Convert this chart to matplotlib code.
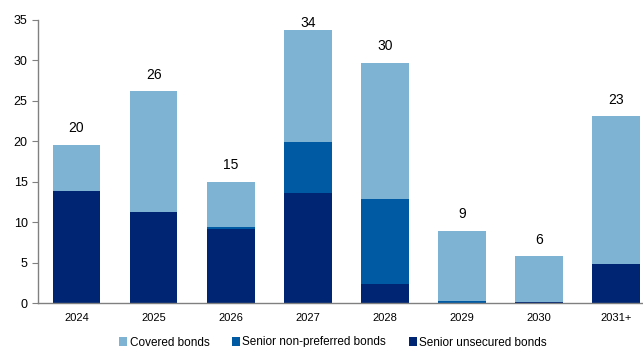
import numpy as np
import matplotlib.pyplot as plt

plt.rcParams['font.family'] = ['Liberation Sans', 'DejaVu Sans']

years = ["2024", "2025", "2026", "2027", "2028", "2029", "2030", "2031+"]
senior_unsecured = [13.9, 11.3, 9.1, 13.6, 2.4, 0.0, 0.15, 4.8]
senior_non_preferred = [0.0, 0.0, 0.3, 6.3, 10.45, 0.25, 0.0, 0.0]
covered = [5.7, 14.9, 5.6, 13.9, 16.85, 8.65, 5.65, 18.3]
totals = [20, 26, 15, 34, 30, 9, 6, 23]

c_cov = "#7fb3d3"
c_snp = "#005aa3"
c_uns = "#002673"

fig = plt.figure(figsize=(6.43, 3.47), dpi=100)
ax = fig.add_axes([38 / 643, 44 / 347, 1 - 38 / 643, 283 / 347])

x = np.arange(len(years))
w = 0.62
uns = np.array(senior_unsecured)
snp = np.array(senior_non_preferred)
cov = np.array(covered)

ax.bar(x, uns, w, color=c_uns, label="Senior unsecured bonds", zorder=2)
ax.bar(x, snp, w, bottom=uns, color=c_snp, label="Senior non-preferred bonds", zorder=2)
ax.bar(x, cov, w, bottom=uns + snp, color=c_cov, label="Covered bonds", zorder=2)

# total labels above the stacks (kept inside the top of the axes)
for xi, top, t in zip(x, uns + snp + cov, totals):
    ax.text(xi, min(top + 2.05, 34.6), str(t), ha="center", va="center",
            fontsize=10, clip_on=False)

ax.set_xlim(-0.5, 7.35)
ax.set_ylim(0, 35)
ax.set_yticks(range(0, 36, 5))
ax.set_xticks(x)
ax.set_xticklabels(years, fontsize=8)
ax.tick_params(axis="x", length=0, pad=7)
ax.tick_params(axis="y", labelsize=9, length=4, color="#808080", direction="out")

for s in ["top", "right"]:
    ax.spines[s].set_visible(False)
for s in ["left", "bottom"]:
    ax.spines[s].set_color("#808080")
    ax.spines[s].set_linewidth(1)

handles, labels = ax.get_legend_handles_labels()
order = [2, 1, 0]
fig.legend([handles[i] for i in order], [labels[i] for i in order],
           loc="center", bbox_to_anchor=(333 / 643, 4.5 / 347),
           ncol=3, frameon=False, fontsize=8.5, handlelength=0.7, handleheight=0.7,
           handletextpad=0.2, columnspacing=1.9, borderpad=0)

fig.savefig("out.png", dpi=100)
